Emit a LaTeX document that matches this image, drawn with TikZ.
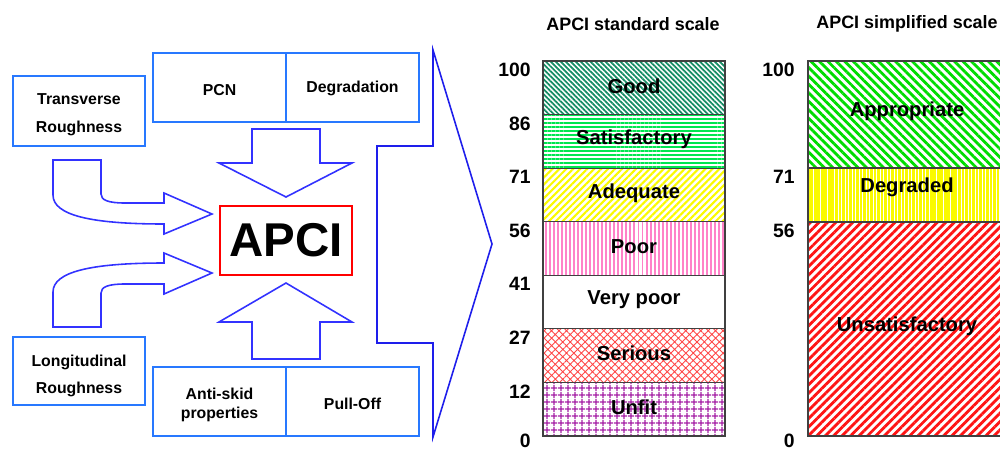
\documentclass[tikz,border=0pt]{standalone}
\usepackage{fontspec}
\setmainfont{Liberation Sans}
\usepackage{xcolor}
\usetikzlibrary{patterns.meta}

\definecolor{boxblue}{RGB}{40,120,255}
\definecolor{arrblue}{RGB}{50,50,255}
\definecolor{chevblue}{RGB}{30,30,235}
\definecolor{goodc}{RGB}{20,140,100}
\definecolor{satc}{RGB}{0,230,80}
\definecolor{adeqc}{RGB}{250,250,0}
\definecolor{poorc}{RGB}{255,130,200}
\definecolor{serc}{RGB}{255,70,70}
\definecolor{unfitc}{RGB}{165,30,165}
\definecolor{approc}{RGB}{0,220,0}
\definecolor{unsatc}{RGB}{255,20,20}

\begin{document}
\begin{tikzpicture}[x=0.02cm,y=-0.02cm,
  in box/.style={draw=boxblue,line width=1.1pt,inner sep=0pt,
    minimum width=2.65cm,minimum height=1.38cm},
  box text/.style={align=center,inner sep=0pt,font=\fontsize{9}{10.5}\selectfont\bfseries},
  fat arrow/.style={draw=arrblue,line width=0.9pt,line join=miter},
  scale row/.style={draw=black!75,line width=0.6pt},
  row text/.style={font=\fontsize{11.5}{13}\selectfont\bfseries},
  num text/.style={anchor=east,inner sep=0pt,font=\fontsize{11}{13}\selectfont\bfseries},
  title text/.style={font=\fontsize{10.2}{12}\selectfont\bfseries},
  pgood/.style={pattern={Lines[angle=-45,distance=2pt,line width=1pt]},pattern color=goodc},
  psat/.style={pattern={Lines[angle=0,distance=2.3pt,line width=1.1pt]},pattern color=satc},
  padeq/.style={pattern={Lines[angle=45,distance=2.8pt,line width=1.2pt]},pattern color=adeqc},
  ppoor/.style={pattern={Lines[angle=90,distance=2.3pt,line width=1.1pt]},pattern color=poorc},
  pvpoor/.style={},
  pser/.style={pattern={Hatch[angle=45,distance=3pt,line width=0.5pt]},pattern color=serc},
  punfit/.style={pattern={Hatch[angle=0,distance=4pt,line width=0.8pt]},pattern color=unfitc},
  pappro/.style={pattern={Lines[angle=-45,distance=3.4pt,line width=1.6pt]},pattern color=approc},
  pdegr/.style={pattern={Lines[angle=90,distance=2pt,line width=1.5pt]},pattern color=adeqc},
  punsat/.style={pattern={Lines[angle=45,distance=3.4pt,line width=1.6pt]},pattern color=unsatc}]
  \useasboundingbox (0,0) rectangle (1000,450);

  % input boxes
  \node[in box,minimum width=2.64cm,minimum height=1.4cm] (trans) at (79,111) {};
  \node[in box,minimum width=2.64cm,minimum height=1.36cm] (longi) at (79,371) {};
  \node[in box] (pcn) at (219.5,87.5) {};
  \node[in box] (degr) at (352.5,87.5) {};
  \node[in box] (skid) at (219.5,401.5) {};
  \node[in box] (pull) at (352.5,401.5) {};
  \node[box text] (transl) at (79,115) {Transverse\\[5.5pt]Roughness};
  \node[box text] (longil) at (79,376) {Longitudinal\\[4.5pt]Roughness};
  \node[box text] (pcnl) at (219.5,90) {PCN};
  \node[box text] (degrl) at (352.5,88) {Degradation};
  \node[box text] (skidl) at (219.5,405) {Anti-skid\\properties};
  \node[box text] (pulll) at (352.5,404) {Pull-Off};
  \node[draw=red,line width=1.1pt,minimum width=2.64cm,minimum height=1.38cm,
    font=\fontsize{27}{30}\selectfont\bfseries] (apci) at (286,240.5) {APCI};

  % block arrows
  \draw[fat arrow] (252,129) -- (320,129) -- (320,163) -- (352,163) -- (286,197)
    -- (219,163) -- (252,163) -- cycle;
  \draw[fat arrow] (252,359) -- (320,359) -- (320,322) -- (352,322) -- (286,283)
    -- (219,322) -- (252,322) -- cycle;
  \draw[fat arrow] (53,160) -- (101,160) -- (101,194) .. controls (101,200) and (108,203) .. (125,203)
    -- (164,203) -- (164,193) -- (212,214) -- (164,234) -- (164,224)
    .. controls (90,224) and (53,215) .. (53,195) -- cycle;
  \draw[fat arrow] (53,327) -- (101,327) -- (101,293) .. controls (101,287) and (108,284) .. (125,284)
    -- (164,284) -- (164,294) -- (212,273) -- (164,253) -- (164,263)
    .. controls (90,263) and (53,272) .. (53,292) -- cycle;

  % big chevron
  \draw[draw=chevblue,line width=0.9pt] (433,50) -- (492,244) -- (433,437) -- (433,343)
    -- (377,343) -- (377,146) -- (433,146) -- cycle;

  % standard scale
  \node[title text] (stdtitle) at (633,24) {APCI standard scale};
  \foreach \sty/\lab [count=\i from 0] in {pgood/Good,psat/Satisfactory,padeq/Adequate,
      ppoor/Poor,pvpoor/Very poor,pser/Serious,punfit/Unfit}{
    \draw[scale row,\sty] (543,{61+\i*53.57}) rectangle (725,{61+(\i+1)*53.57});
    \node[row text] (std\i) at (634,{59+(\i+0.5)*53.57}) {\lab};
  }
  \foreach \v [count=\i from 0] in {100,86,71,56,41,27,12}
    \node[num text] (stdnum\i) at (531,{70+\i*53.57}) {\v};
  \node[num text] (stdnum7) at (531,441) {0};

  % simplified scale
  \node[title text] (simtitle) at (907,24) {APCI simplified scale};
  \draw[scale row,pappro] (808,61) rectangle (1010,168);
  \draw[scale row,pdegr] (808,168) rectangle (1010,222);
  \draw[scale row,punsat] (808,222) rectangle (1010,436);
  \node[row text] (appro) at (907,111) {Appropriate};
  \node[row text] (degraded) at (907,187) {Degraded};
  \node[row text] (unsat) at (907,326) {Unsatisfactory};
  \foreach \v/\y [count=\i from 0] in {100/70,71/177,56/231,0/441}
    \node[num text] (simnum\i) at (795,\y) {\v};
\end{tikzpicture}
\end{document}
